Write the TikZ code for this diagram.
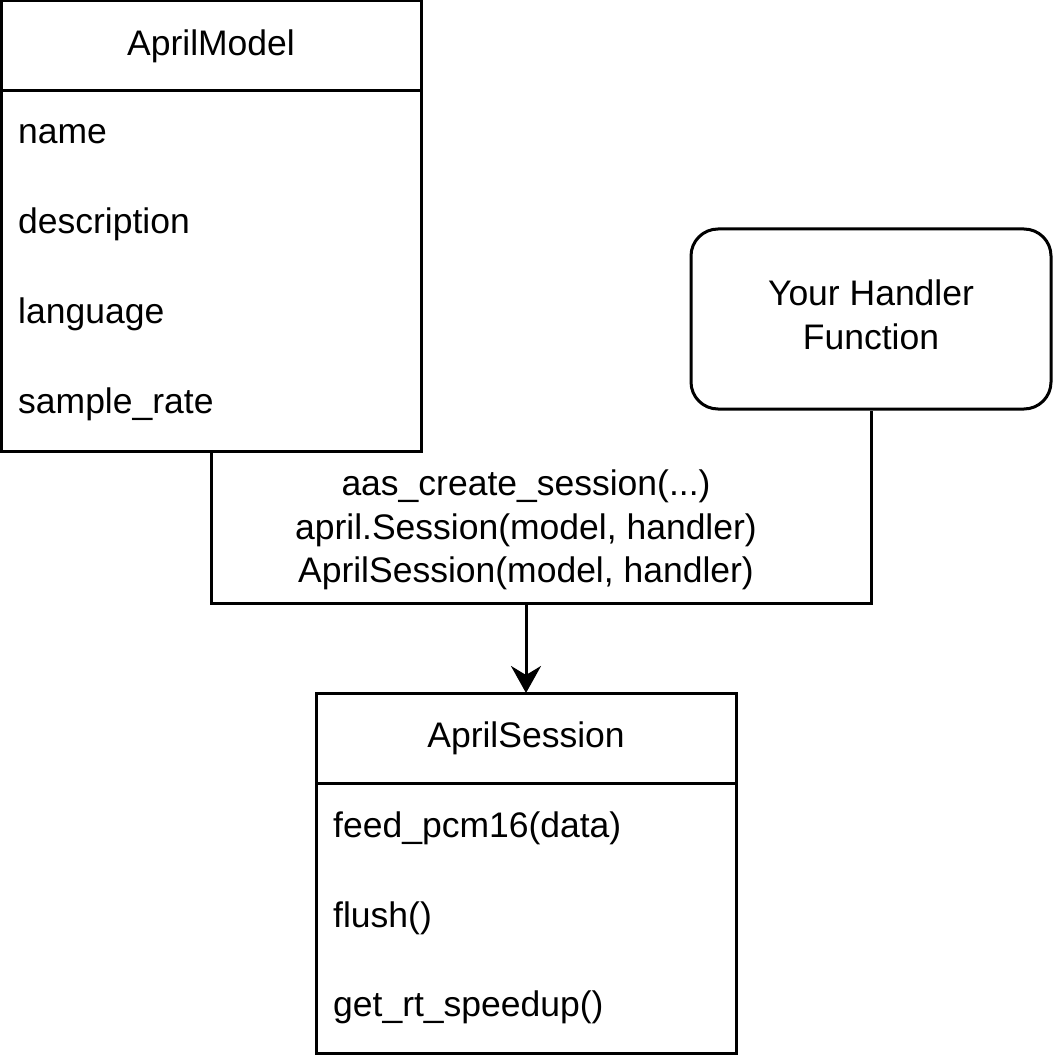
\documentclass[tikz,border=0pt]{standalone}
\usepackage{fontspec}
\setmainfont{Liberation Sans}
\usetikzlibrary{arrows.meta,positioning}

\begin{document}
\begin{tikzpicture}[
    x=1pt, y=-1pt,
    font=\fontsize{35.5}{43.5}\selectfont,
    classBox/.style={
        rectangle, draw=black, line width=3pt,
        minimum width=420pt, inner sep=0pt, outer sep=0pt
    },
    headBox/.style={classBox, minimum height=90pt},
    bodyBox/.style={classBox, anchor=north},
    fieldText/.style={anchor=west, inner sep=0pt},
    handlerBox/.style={
        rectangle, rounded corners=27pt,
        draw=black, line width=3pt,
        minimum width=360pt, minimum height=180pt,
        align=center, inner sep=0pt
    },
    link/.style={draw=black, line width=3pt},
    arrowLink/.style={link, -{Stealth[length=27pt,width=30pt,inset=9pt]}},
    callText/.style={align=center, inner sep=0pt}
]
\useasboundingbox (0,0) rectangle (1053,1056);

% AprilModel class
\node[headBox] (ModelHead) at (211,46) {AprilModel};
\node[bodyBox, minimum height=360pt] (ModelBody) at (ModelHead.south) {};
\node[fieldText] (ModelName) at (18,134) {name};
\node[fieldText] (ModelDesc) at (18,224) {description};
\node[fieldText] (ModelLang) at (18,314) {language};
\node[fieldText] (ModelRate) at (18,404) {sample\_rate};

% user callback
\node[handlerBox] (Handler) at (871,319) {};
\node[callText] (HandlerText) at (871,315) {Your Handler\\Function};

% AprilSession class
\node[headBox] (SessionHead) at (526,738) {AprilSession};
\node[bodyBox, minimum height=270pt] (SessionBody) at (SessionHead.south) {};
\node[fieldText] (SessionFeed) at (333,828) {feed\_pcm16(data)};
\node[fieldText] (SessionFlush) at (333,918) {flush()};
\node[fieldText] (SessionSpeed) at (333,1007) {get\_rt\_speedup()};

% joining both into the session
\coordinate (Join) at (526,603);
\node[callText] (CallText) at (526,530)
  {aas\_create\_session(...)\\april.Session(model, handler)\\AprilSession(model, handler)};

\draw[link] (ModelBody.south) |- (Join) -| (Handler.south);
\draw[arrowLink] (Join) -- (SessionHead.north);

\end{tikzpicture}
\end{document}
